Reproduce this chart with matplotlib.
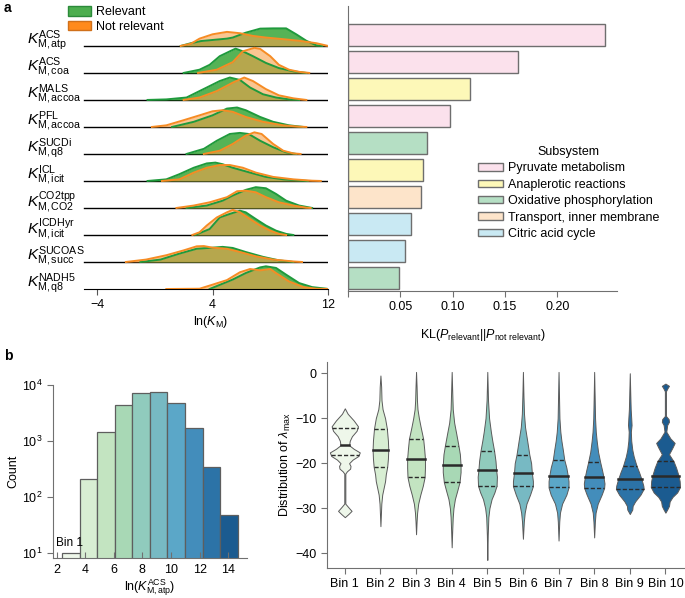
import numpy as np
import matplotlib.pyplot as plt
from matplotlib.patches import Patch
from matplotlib.transforms import blended_transform_factory

plt.rcParams['font.family'] = ['Liberation Sans', 'DejaVu Sans']
plt.rcParams['mathtext.fontset'] = 'custom'
plt.rcParams['mathtext.rm'] = 'Liberation Sans'
plt.rcParams['mathtext.it'] = 'Liberation Sans:italic'
plt.rcParams['mathtext.bf'] = 'Liberation Sans:bold'
plt.rcParams['font.size'] = 8.5

# ---------------- panel a data ----------------
enzymes = ['ACS', 'ACS', 'MALS', 'PFL', 'SUCDi', 'ICL', 'CO2tpp', 'ICDHyr', 'SUCOAS', 'NADH5']
metabolites = ['atp', 'coa', 'accoa', 'accoa', 'q8', 'icit', 'CO2', 'icit', 'succ', 'q8']

# ridge densities, (ln K_M, height) points, top row first
relevant_kde = [
    [(1.8, 0), (2.5, 0.1), (3.2, 0.18), (4.0, 0.22), (5.0, 0.27), (5.4, 0.31), (6.3, 0.49), (7.3, 0.64),
     (8.2, 0.65), (9.1, 0.65), (9.8, 0.43), (10.5, 0.19), (11.2, 0.02), (11.6, 0)],
    [(2.0, 0), (3.1, 0.12), (3.8, 0.3), (4.5, 0.62), (5.2, 0.8), (5.6, 0.9), (6.1, 0.8), (6.8, 0.62),
     (7.7, 0.37), (8.6, 0.18), (9.6, 0.06), (10.5, 0)],
    [(-0.5, 0), (0.8, 0.02), (2.2, 0.09), (3.6, 0.46), (4.5, 0.7), (5.2, 0.83), (5.9, 0.74), (6.6, 0.46),
     (7.5, 0.21), (8.4, 0.09), (9.3, 0.02), (10.0, 0)],
    [(1.2, 0), (2.7, 0.19), (4.0, 0.43), (5.0, 0.68), (5.7, 0.72), (6.3, 0.62), (7.3, 0.37), (8.2, 0.19),
     (9.3, 0.06), (10.3, 0)],
    [(2.2, 0), (3.4, 0.19), (4.3, 0.49), (5.2, 0.74), (5.9, 0.78), (6.5, 0.74), (7.3, 0.49), (8.2, 0.25),
     (9.1, 0.06), (9.8, 0)],
    [(-0.5, 0), (0.8, 0.06), (1.7, 0.25), (2.7, 0.49), (3.6, 0.65), (4.2, 0.68), (4.7, 0.62), (5.4, 0.49),
     (6.6, 0.31), (7.7, 0.15), (8.9, 0.06), (10.0, 0.02), (10.6, 0)],
    [(2.2, 0), (3.6, 0.09), (4.7, 0.27), (5.4, 0.46), (6.3, 0.67), (7.0, 0.77), (7.7, 0.73), (8.4, 0.52),
     (9.1, 0.27), (10.0, 0.09), (10.9, 0)],
    [(2.8, 0), (3.8, 0.22), (4.5, 0.65), (5.2, 0.78), (5.9, 0.9), (6.3, 0.84), (7.0, 0.59), (7.7, 0.35),
     (8.4, 0.16), (9.1, 0.04), (9.6, 0)],
    [(-1.0, 0), (0.4, 0.09), (1.7, 0.31), (2.9, 0.49), (4.0, 0.53), (4.7, 0.56), (5.4, 0.52), (6.3, 0.37),
     (7.5, 0.19), (8.6, 0.06), (9.6, 0)],
    [(3.8, 0), (5.4, 0.35), (6.3, 0.59), (7.3, 0.8), (7.7, 0.84), (8.4, 0.78), (9.1, 0.53), (10.0, 0.22),
     (10.9, 0.07), (11.9, 0.01), (12.0, 0)],
]
not_relevant_kde = [
    [(1.8, 0), (2.5, 0.08), (3.1, 0.27), (4.0, 0.43), (5.0, 0.52), (5.9, 0.47), (6.8, 0.37), (7.7, 0.31),
     (8.9, 0.25), (10.0, 0.19), (11.2, 0.1), (12.0, 0.0)],
    [(3.0, 0), (4.3, 0.12), (5.4, 0.4), (6.1, 0.8), (6.9, 0.93), (7.3, 0.89), (8.0, 0.62), (8.6, 0.3),
     (9.3, 0.12), (10.0, 0.04), (10.7, 0)],
    [(2.0, 0), (3.1, 0.09), (4.3, 0.33), (5.4, 0.64), (6.2, 0.83), (6.8, 0.7), (7.7, 0.4), (8.6, 0.17),
     (9.6, 0.06), (10.5, 0)],
    [(-0.2, 0), (0.8, 0.06), (2.0, 0.25), (3.1, 0.43), (4.0, 0.58), (4.7, 0.62), (5.4, 0.56), (6.3, 0.37),
     (7.5, 0.19), (8.9, 0.06), (10.0, 0.01), (10.5, 0)],
    [(3.4, 0), (4.5, 0.12), (5.4, 0.37), (6.3, 0.68), (6.9, 0.8), (7.4, 0.74), (8.2, 0.37), (8.9, 0.12),
     (9.6, 0.02), (10.1, 0)],
    [(0.5, 0), (1.7, 0.06), (2.7, 0.31), (3.6, 0.49), (4.5, 0.59), (5.2, 0.59), (6.1, 0.49), (7.0, 0.31),
     (8.2, 0.15), (9.6, 0.06), (10.9, 0.01), (11.5, 0)],
    [(1.5, 0), (2.7, 0.09), (3.8, 0.21), (5.0, 0.4), (5.7, 0.62), (6.3, 0.64), (7.0, 0.58), (7.7, 0.4),
     (8.6, 0.21), (9.6, 0.09), (10.5, 0.01), (10.8, 0)],
    [(2.6, 0), (3.1, 0.1), (3.6, 0.35), (4.3, 0.65), (5.0, 0.84), (5.4, 0.93), (5.9, 0.84), (6.6, 0.59),
     (7.3, 0.35), (8.0, 0.16), (8.6, 0.04), (9.1, 0)],
    [(-2.0, 0), (-0.6, 0.09), (0.8, 0.25), (2.0, 0.43), (2.9, 0.58), (3.4, 0.59), (4.0, 0.53), (5.0, 0.49),
     (5.9, 0.37), (7.0, 0.21), (8.2, 0.09), (9.6, 0.02), (10.2, 0)],
    [(0.8, 0), (3.1, 0.01), (4.0, 0.16), (5.0, 0.33), (5.9, 0.62), (6.6, 0.74), (7.3, 0.69), (8.0, 0.74),
     (8.4, 0.59), (9.3, 0.28), (10.3, 0.07), (11.2, 0.01), (12.0, 0)],
]

kl_values = [0.2457, 0.1625, 0.1166, 0.0975, 0.0755, 0.0717, 0.0700, 0.0600, 0.0545, 0.0488]
subsystem = ['Pyruvate metabolism', 'Pyruvate metabolism', 'Anaplerotic reactions', 'Pyruvate metabolism',
             'Oxidative phosphorylation', 'Anaplerotic reactions', 'Transport, inner membrane',
             'Citric acid cycle', 'Citric acid cycle', 'Oxidative phosphorylation']
subsystem_names = ['Pyruvate metabolism', 'Anaplerotic reactions', 'Oxidative phosphorylation',
                   'Transport, inner membrane', 'Citric acid cycle']
subsystem_colors = ['#fbe1ec', '#fdf8b8', '#b5dfc4', '#fde4ca', '#c9e9f3']

# ---------------- panel b data ----------------
hist_counts = [10, 210, 1430, 4400, 7300, 7500, 4700, 1700, 340, 48]
bin_labels = ['Bin %d' % (i + 1) for i in range(10)]

# violin outlines: lambda_max levels and half widths
violin_y = [
    [-7.8, -9, -10.5, -11.8, -12.8, -14, -15, -16, -16.8, -17.6, -18.4, -19.2, -20, -20.6, -21.2, -21.8,
     -22.3, -29.0, -29.8, -30.6, -31.3, -32.0],
    [-0.5, -3, -6, -8, -10, -12.3, -15, -17, -19, -20.8, -22.5, -24, -25.5, -27, -29, -31, -34],
    [0.3, -3, -6, -8, -10, -12, -14.6, -17, -19, -21, -23.1, -25, -27, -29, -31, -33, -35.8],
    [0.3, -4, -8, -11, -13.5, -16.1, -18, -20.4, -22, -24.2, -26, -28, -30, -32, -35, -38.7],
    [0.3, -6, -10, -13, -15, -17.2, -19.5, -21.6, -23, -25, -26.5, -28, -30, -32, -36, -41.5],
    [0.3, -5, -9, -12, -15, -18.1, -20, -22.1, -24, -25.1, -27, -29, -31, -33, -36.8],
    [0.3, -6, -10, -13, -15, -17, -19.2, -21, -22.8, -24, -25.4, -27, -29, -31, -33, -37.2],
    [0.3, -6, -10, -13, -15, -17.5, -19.8, -21.5, -23, -24.5, -25.5, -27, -29, -31, -33, -36.5],
    [0, -5, -8, -10, -11.5, -13, -15, -17, -18.5, -20.6, -22, -23.6, -25, -25.7, -27, -28.5, -29.5, -30.3,
     -31.3],
    [-2.3, -2.8, -3.3, -4, -9.5, -10.2, -10.8, -11.5, -13, -14.5, -15.5, -16.5, -18, -19.6, -21, -22.8, -24,
     -25.3, -26.5, -27.5, -28.5, -29.5, -30.3, -31],
]
violin_w = [
    [0, 0.08, 0.25, 0.37, 0.33, 0.2, 0.14, 0.12, 0.25, 0.42, 0.38, 0.22, 0.12, 0.16, 0.15, 0.06, 0.015,
     0.015, 0.1, 0.19, 0.1, 0],
    [0, 0.02, 0.03, 0.06, 0.13, 0.18, 0.21, 0.22, 0.21, 0.19, 0.15, 0.13, 0.09, 0.05, 0.025, 0.015, 0],
    [0, 0.015, 0.025, 0.04, 0.08, 0.13, 0.2, 0.23, 0.25, 0.25, 0.24, 0.19, 0.12, 0.06, 0.03, 0.015, 0],
    [0, 0.015, 0.03, 0.07, 0.13, 0.19, 0.23, 0.25, 0.25, 0.22, 0.16, 0.09, 0.05, 0.03, 0.015, 0],
    [0, 0.02, 0.05, 0.1, 0.14, 0.19, 0.23, 0.25, 0.27, 0.26, 0.2, 0.12, 0.06, 0.03, 0.012, 0],
    [0, 0.015, 0.03, 0.06, 0.12, 0.18, 0.23, 0.25, 0.28, 0.28, 0.2, 0.1, 0.05, 0.025, 0],
    [0, 0.015, 0.025, 0.05, 0.08, 0.12, 0.16, 0.22, 0.26, 0.28, 0.28, 0.22, 0.1, 0.04, 0.02, 0],
    [0, 0.015, 0.025, 0.045, 0.07, 0.11, 0.17, 0.22, 0.26, 0.29, 0.28, 0.21, 0.1, 0.04, 0.02, 0],
    [0, 0.015, 0.025, 0.04, 0.05, 0.03, 0.04, 0.07, 0.11, 0.19, 0.26, 0.33, 0.38, 0.39, 0.3, 0.15, 0.08,
     0.07, 0],
    [0, 0.1, 0.06, 0.015, 0.015, 0.09, 0.1, 0.05, 0.025, 0.14, 0.26, 0.2, 0.1, 0.23, 0.3, 0.37, 0.4, 0.41,
     0.33, 0.2, 0.12, 0.1, 0.05, 0],
]
violin_median = [-16.0, -17.0, -19.0, -20.4, -21.6, -22.1, -22.8, -23.0, -23.6, -22.8]
violin_q1 = [-12.1, -12.3, -14.6, -16.1, -17.2, -18.1, -19.2, -19.8, -20.6, -19.6]
violin_q3 = [-18.1, -20.8, -23.1, -24.2, -25.0, -25.1, -25.4, -25.5, -25.7, -25.3]

bin_colors = ['#eef7ea', '#d8eed3', '#c3e4c1', '#a8d8b5', '#90cbbd', '#77b9c3', '#5ba7c8', '#438dbb',
              '#2c73a7', '#1b5b90']

W, H = 685, 598
fig = plt.figure(figsize=(W / 100, H / 100), dpi=100)

def box(l, t, r, b):
    return [l / W, 1 - b / H, (r - l) / W, (b - t) / H]

# ---------------- ridges ----------------
ax_r = fig.add_axes(box(82.6, 10, 328, 289))
ax_r.set_xlim(-5, 12)
ax_r.set_ylim(0, 10.33)
n = len(enzymes)
for i in range(n):
    base = n - 1 - i
    if i < n - 1:
        ax_r.plot([-4.9, 12], [base, base], color='black', lw=1, zorder=1)
    for pts, fc, al, ec in [(relevant_kde[i], '#2ca02c', 0.8, '#1f9a3c'),
                            (not_relevant_kde[i], '#f7a048', 0.6, '#f68c24')]:
        x = [p[0] for p in pts]
        h = [base + p[1] for p in pts]
        ax_r.fill_between(x, base, h, color=fc, alpha=al, lw=0, zorder=2 + i * 0.01)
        ax_r.plot(x, h, color=ec, lw=1.4, zorder=3 + i * 0.01)

trans = blended_transform_factory(fig.transFigure, ax_r.transData)
for i in range(n):
    lab = r'$K_{\mathrm{M,%s}}^{\mathrm{%s}}$' % (metabolites[i], enzymes[i])
    ax_r.text(27 / W, n - 1 - i + 0.2, lab, transform=trans, ha='left', va='center', fontsize=11)

for s in ['left', 'right', 'top']:
    ax_r.spines[s].set_visible(False)
ax_r.spines['bottom'].set_bounds(-4.9, 12)
ax_r.set_yticks([])
ax_r.set_xticks([-4, 4, 12])
ax_r.tick_params(axis='x', length=4, width=0.8, color='#555555', labelsize=9, pad=3)
ax_r.set_xlabel(r'ln($K_{\mathrm{M}}$)', fontsize=9)
ax_r.xaxis.set_label_coords(0.523, -0.088)

fig.legend([Patch(fc='#4cae4f', ec='#2b8a3a'), Patch(fc='#ff8a1c', ec='#d0701a')],
           ['Relevant', 'Not relevant'], loc='upper left', bbox_to_anchor=(68 / W, 1 - 6 / H),
           frameon=False, handlelength=1.8, handleheight=0.8, handletextpad=0.45,
           labelspacing=0.2, borderpad=0, borderaxespad=0, fontsize=9)

# ---------------- KL bars ----------------
ax_b = fig.add_axes(box(348, 6, 617, 291))
ax_b.set_xlim(0, 0.257)
ax_b.set_ylim(-0.074, 10.48)
colmap = dict(zip(subsystem_names, subsystem_colors))
ax_b.barh([n - 1 - i for i in range(n)], kl_values, height=0.815, align='edge',
          color=[colmap[s] for s in subsystem], edgecolor='#6e6e6e', lw=1)
for s in ['right', 'top']:
    ax_b.spines[s].set_visible(False)
for s in ['left', 'bottom']:
    ax_b.spines[s].set_color('#707070')
ax_b.set_yticks([])
ax_b.set_xticks([0, 0.05, 0.10, 0.15, 0.20])
ax_b.set_xticklabels(['', '0.05', '0.10', '0.15', '0.20'])
ax_b.tick_params(axis='x', length=4, width=0.8, color='#707070', labelsize=9, pad=3)
ax_b.set_xlabel(r'KL($P_{\mathrm{relevant}}||P_{\mathrm{not\ relevant}}$)', fontsize=9, labelpad=10)
ax_b.legend([Patch(fc=c, ec='#6e6e6e') for c in subsystem_colors], subsystem_names, title='Subsystem',
            loc='upper left', bbox_to_anchor=(478 / W, 1 - 146 / H), bbox_transform=fig.transFigure,
            frameon=False, handlelength=2.0, handleheight=0.55, handletextpad=0.4, labelspacing=0.35,
            borderpad=0, borderaxespad=0, fontsize=9, title_fontsize=9)

# ---------------- histogram ----------------
ax_h = fig.add_axes(box(53.3, 385, 246.7, 558.3))
ax_h.set_yscale('log')
edges = np.linspace(2.39, 14.66, 11)
ax_h.bar(edges[:-1], hist_counts, width=edges[1] - edges[0], align='edge', color=bin_colors,
         edgecolor='#5e5e5e', lw=0.9)
ax_h.set_xlim(1.76, 15.3)
ax_h.set_ylim(10 ** 0.9, 1e4)
ax_h.set_yticks([10, 100, 1000, 10000])
ax_h.minorticks_off()
ax_h.set_xticks([2, 4, 6, 8, 10, 12, 14])
for s in ['right', 'top']:
    ax_h.spines[s].set_visible(False)
for s in ['left', 'bottom']:
    ax_h.spines[s].set_color('#707070')
ax_h.tick_params(axis='y', length=4, width=0.8, color='#707070', labelsize=9)
ax_h.tick_params(axis='x', direction='in', length=4, width=0.8, color='#707070', labelsize=9, pad=4)
ax_h.text(1.95, 11.5, 'Bin 1', fontsize=8.5, va='bottom', ha='left')
ax_h.set_ylabel('Count', fontsize=9, labelpad=2)
ax_h.set_xlabel(r'ln($K_{\mathrm{M,atp}}^{\mathrm{ACS}}$)', fontsize=9, labelpad=1)

# ---------------- violins ----------------
ax_v = fig.add_axes(box(327, 362, 685, 568))
for i in range(10):
    ys = np.array(violin_y[i])
    ws = np.array(violin_w[i])
    ax_v.fill_betweenx(ys, i - ws, i + ws, facecolor=bin_colors[i], edgecolor='#5a5a5a', lw=0.7)
    for q, ls, lw in [(violin_median[i], '-', 1.8), (violin_q1[i], (0, (3, 1.5)), 1.0),
                      (violin_q3[i], (0, (3, 1.5)), 1.0)]:
        w = np.interp(q, ys[::-1], ws[::-1])
        ax_v.plot([i - w, i + w], [q, q], color='#2a2a2a', ls=ls, lw=lw)
ax_v.set_xlim(-0.5, 9.55)
ax_v.set_ylim(-43.3, 2.5)
ax_v.set_xticks(range(10))
ax_v.set_xticklabels(bin_labels)
ax_v.set_yticks([0, -10, -20, -30, -40])
for s in ['right', 'top']:
    ax_v.spines[s].set_visible(False)
for s in ['left', 'bottom']:
    ax_v.spines[s].set_color('#707070')
ax_v.tick_params(length=4, width=0.8, color='#707070', labelsize=9)
ax_v.set_ylabel(r'Distribution of $\lambda_{\mathrm{max}}$', fontsize=9, labelpad=2)

fig.text(4 / W, 1 - 1 / H, 'a', fontsize=10, fontweight='bold', va='top')
fig.text(4 / W, 1 - 349 / H, 'b', fontsize=10, fontweight='bold', va='top')

fig.savefig('out.png', dpi=100)
